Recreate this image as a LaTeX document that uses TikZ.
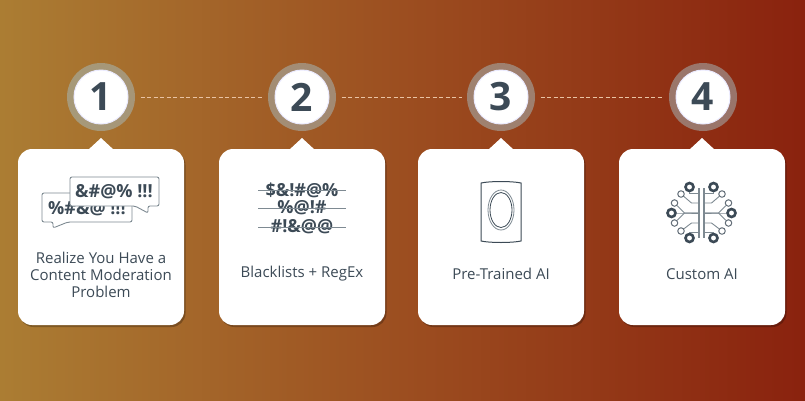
\documentclass[tikz,border=0pt]{standalone}
\usepackage{fontspec}
\setmainfont{Open Sans}
\usetikzlibrary{shadows}
\usetikzlibrary{positioning}
\usetikzlibrary{calc}
\definecolor{bgleft}{HTML}{AB7D33}
\definecolor{bgmid}{HTML}{9C4E20}
\definecolor{bgright}{HTML}{8A220E}
\definecolor{inkblue}{HTML}{3C4A56}
\definecolor{inkgrey}{HTML}{7E8A92}
\definecolor{dashpeach}{HTML}{E9C3A4}
\definecolor{halogrey}{HTML}{A6BEC3}
\tikzstyle{card}=[rectangle,rounded corners=14pt,fill=white,minimum width=166pt,minimum height=176pt,inner sep=0pt,drop shadow={shadow xshift=1.5pt,shadow yshift=-2pt,opacity=0.25,fill=black}]
\tikzstyle{halo}=[circle,fill=halogrey,opacity=0.5,minimum size=68pt,inner sep=0pt]
\tikzstyle{badge}=[circle,fill=white,draw=blue!8,line width=1pt,minimum size=54pt,inner sep=0pt,text=inkblue,font=\fontsize{39}{39}\selectfont\bfseries]
\tikzstyle{caption}=[align=center,text=inkblue,font=\fontsize{15}{17}\selectfont]
\tikzstyle{link} = [draw=dashpeach,line width=0.6pt,dashed,dash pattern=on 4pt off 2.5pt]
\tikzstyle{bubble} = [draw=inkgrey,fill=white,line width=0.9pt,rounded corners=2pt]
\tikzstyle{curse}=[text=inkblue,font=\fontsize{18}{18}\selectfont\bfseries,inner sep=0pt]
\tikzstyle{wire} = [draw=inkgrey,line width=0.9pt]
\tikzstyle{pad}=[circle,draw=inkblue!80,fill=white,line width=1pt,minimum size=6.5pt,inner sep=0pt]
\tikzstyle{bigpad}=[circle,draw=inkblue,fill=white,line width=2.6pt,minimum size=8pt,inner sep=0pt]
\begin{document}
\begin{tikzpicture}[x=1pt,y=-1pt]
  \useasboundingbox (0,0) rectangle (805,400);
  \shade[left color=bgleft,right color=bgright,middle color=bgmid] (0,0) rectangle (805,400);

  % cards with their little pointers
  \foreach \pos/\name/\top in {{(101,237)/cardA/(101,138)}, {(302,237)/cardB/(302,138)}, {(501,237)/cardC/(501,138)}, {(702,237)/cardD/(702,138)}}{
    \node[card] (\name) at \pos {};
    \fill[white] \top -- ++(13,12) -- ++(-26,0) -- cycle;
  }

  % numbered circles
  \foreach \pos/\name/\label in {{(101,97)/numA/1}, {(302,97)/numB/2}, {(501,97)/numC/3}, {(703,97)/numD/4}}{
    \node[halo] at \pos {};
    \node[badge] (\name) at \pos {\label};
  }
  \foreach \source/ \dest in {numA/numB, numB/numC, numC/numD}
    \path[link] ($(\source.east)+(12,0)$) -- ($(\dest.west)+(-12,0)$);

  \node[caption] (capA) at (101,275) {Realize You Have a\\Content Moderation\\Problem};
  \node[caption] (capB) at (302,274) {Blacklists + RegEx};
  \node[caption] (capC) at (501,274) {Pre-Trained AI};
  \node[caption] (capD) at (702,274) {Custom AI};

  % speech bubbles
  \path[bubble] (42,193) -- (132,193) -- (132,222) -- (68,222) -- (53,228) -- (53,222) -- (42,222) -- cycle;
  \node[curse] (backtalk) at (87,209) {\%\#\&@ !!!};
  \path[bubble] (70,177) -- (159,177) -- (159,206) -- (148,206) -- (148,213) -- (135,206) -- (70,206) -- cycle;
  \node[curse] (fronttalk) at (114,192) {\&\#@\% !!!};

  % struck out words
  \foreach \y/\name/\label in {190/wordA/{\$\&!\#@\%}, 208/wordB/{\%@!\#}, 227/wordC/{\#!\&@@}}{
    \node[curse] (\name) at (302,\y) {\label};
    \draw[inkgrey,line width=0.8pt] (258,\y) -- (346,\y);
  }

  % pre-trained icon
  \path[draw=inkblue,line width=1pt,fill=white] (481,183) .. controls (490,181) and (512,181) .. (521,183) -- (521,241) .. controls (512,243) and (490,243) .. (481,241) -- cycle;
  \draw[inkgrey,line width=0.8pt] (501,210) ellipse (13pt and 20pt);
  \draw[inkblue,line width=0.8pt] (501,210) ellipse (11pt and 17.5pt);

  % circuit brain
  \draw[inkgrey,line width=1.5pt] (699,188) -- (699,238);
  \draw[inkgrey,line width=1.5pt] (704,188) -- (704,238);
  \foreach \sgn in {-1,1}{
    \foreach \px/\py/\kx/\ky/\sname in {30/213/17/213/bigpad, 27/203/17/213/pad, 27/223/17/213/pad, 20.5/194/10/203/pad, 20.5/231/10/223/pad, 12/187/12/193/bigpad, 12/238/12/232/bigpad}{
      \node[\sname] (pad) at (701.5+\sgn*\px,\py) {};
      \draw[wire] (pad) -- (701.5+\sgn*\kx,\ky) -- (701.5+\sgn*2.5,\ky);
    }
  }
\end{tikzpicture}
\end{document}
